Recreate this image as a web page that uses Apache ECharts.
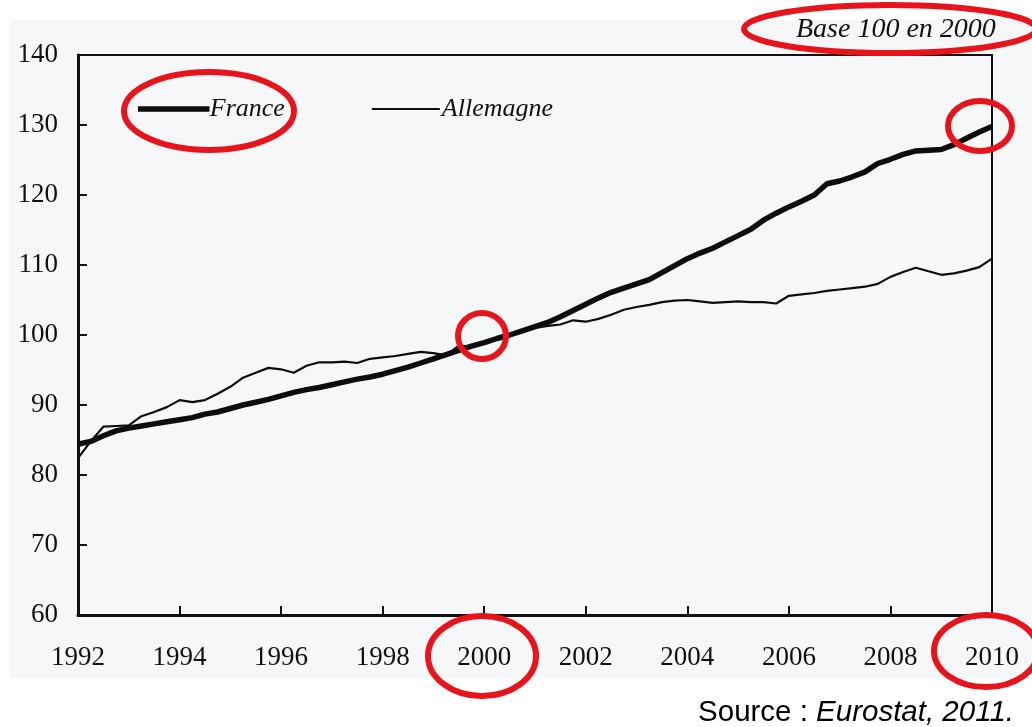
<!DOCTYPE html>
<html>
<head>
<meta charset="utf-8">
<script src="https://cdn.jsdelivr.net/npm/echarts@6/dist/echarts.min.js"></script>
<style>
html,body{margin:0;padding:0;background:#fff;}
#chart{width:1032px;height:727px;}
</style>
</head>
<body>
<div id="chart"></div>
<script>
// Quarterly periods (1992 T1 ... 2010 T1)
const periods = [
  "1992 T1","1992 T2","1992 T3","1992 T4",
  "1993 T1","1993 T2","1993 T3","1993 T4",
  "1994 T1","1994 T2","1994 T3","1994 T4",
  "1995 T1","1995 T2","1995 T3","1995 T4",
  "1996 T1","1996 T2","1996 T3","1996 T4",
  "1997 T1","1997 T2","1997 T3","1997 T4",
  "1998 T1","1998 T2","1998 T3","1998 T4",
  "1999 T1","1999 T2","1999 T3","1999 T4",
  "2000 T1","2000 T2","2000 T3","2000 T4",
  "2001 T1","2001 T2","2001 T3","2001 T4",
  "2002 T1","2002 T2","2002 T3","2002 T4",
  "2003 T1","2003 T2","2003 T3","2003 T4",
  "2004 T1","2004 T2","2004 T3","2004 T4",
  "2005 T1","2005 T2","2005 T3","2005 T4",
  "2006 T1","2006 T2","2006 T3","2006 T4",
  "2007 T1","2007 T2","2007 T3","2007 T4",
  "2008 T1","2008 T2","2008 T3","2008 T4",
  "2009 T1","2009 T2","2009 T3","2009 T4",
  "2010 T1"
];

const france = [
  84.4, 84.8, 85.6, 86.3,
  86.7, 87.0, 87.3, 87.6,
  87.9, 88.2, 88.7, 89.0,
  89.5, 90.0, 90.4, 90.8,
  91.3, 91.8, 92.2, 92.5,
  92.9, 93.3, 93.7, 94.0,
  94.4, 94.9, 95.4, 96.0,
  96.6, 97.2, 97.8, 98.4,
  98.9, 99.5, 100.0, 100.6,
  101.2, 101.8, 102.6, 103.5,
  104.4, 105.3, 106.1, 106.7,
  107.3, 107.9, 108.9, 109.9,
  110.9, 111.7, 112.4, 113.3,
  114.2, 115.1, 116.4, 117.4,
  118.3, 119.1, 120.0, 121.6,
  122.0, 122.6, 123.3, 124.5,
  125.1, 125.8, 126.3, 126.4,
  126.5, 127.2, 128.1, 129.0,
  129.8
];

const allemagne = [
  82.4, 84.8, 86.9, 87.0,
  87.1, 88.4, 89.0, 89.7,
  90.7, 90.4, 90.7, 91.6,
  92.6, 93.9, 94.6, 95.3,
  95.1, 94.6, 95.6, 96.1,
  96.1, 96.2, 96.0, 96.6,
  96.8, 97.0, 97.3, 97.6,
  97.4, 97.1, 98.5, 98.3,
  99.0, 99.6, 100.1, 100.6,
  101.0, 101.3, 101.5, 102.1,
  101.9, 102.3, 102.9, 103.6,
  104.0, 104.3, 104.7, 104.9,
  105.0, 104.8, 104.6, 104.7,
  104.8, 104.7, 104.7, 104.5,
  105.6, 105.8, 106.0, 106.3,
  106.5, 106.7, 106.9, 107.3,
  108.3, 109.0, 109.6, 109.1,
  108.6, 108.8, 109.2, 109.7,
  110.9
];

const seriesNames = ["France", "Allemagne"];
const baseNote = "Base 100 en 2000";
const sourceNote = ["Source : ", "Eurostat, 2011."];

const serif = "'Liberation Serif', 'DejaVu Serif', serif";
const RED = "#e8141c";
const INK = "#111111";
const LINE = "#0d0d0d";

const chart = echarts.init(document.getElementById('chart'));

const option = {
  backgroundColor: '#ffffff',
  animation: false,
  grid: {
    left: 78, right: 40, top: 55, bottom: 112,
    show: true, borderColor: INK, borderWidth: 2, backgroundColor: 'transparent'
  },
  legend: {
    show: true,
    left: 133, top: 91,
    itemWidth: 68, itemHeight: 2, itemGap: 87,
    textStyle: { fontFamily: serif, fontStyle: 'italic', fontSize: 26, color: INK, padding: [0, 0, 0, -3] },
    data: [
      { name: seriesNames[0], icon: 'rect',
        itemStyle: { color: LINE, borderColor: LINE, borderWidth: 3.5 } },
      { name: seriesNames[1], icon: 'rect',
        itemStyle: { color: LINE, borderColor: LINE, borderWidth: 0 } }
    ]
  },
  xAxis: {
    type: 'category',
    data: periods,
    boundaryGap: false,
    axisLine: { lineStyle: { color: INK, width: 3 } },
    axisTick: { inside: true, length: 9, interval: 7, lineStyle: { color: INK, width: 2 } },
    axisLabel: {
      interval: 7, margin: 29,
      fontFamily: serif, fontSize: 27, color: INK,
      formatter: v => v.slice(0, 4)
    },
    splitLine: { show: false }
  },
  yAxis: {
    type: 'value',
    min: 60, max: 140, interval: 10,
    axisLine: { show: true, lineStyle: { color: INK, width: 3 } },
    axisTick: { show: true, inside: true, length: 9, lineStyle: { color: INK, width: 2 } },
    axisLabel: { margin: 20, fontFamily: serif, fontSize: 27, color: INK },
    splitLine: { show: false }
  },
  series: [
    {
      name: seriesNames[0], type: 'line', data: france,
      symbol: 'none', smooth: false,
      lineStyle: { color: LINE, width: 5.5 },
      itemStyle: { color: LINE },
      z: 3
    },
    {
      name: seriesNames[1], type: 'line', data: allemagne,
      symbol: 'none', smooth: false,
      lineStyle: { color: LINE, width: 2.2 },
      itemStyle: { color: LINE },
      z: 2
    }
  ],
  graphic: [
    { type: 'rect', z: -10, silent: true,
      shape: { x: 10, y: 20, width: 1022, height: 658 },
      style: { fill: '#f5f7f9' } },
    { type: 'text', left: 796, top: 16, z: 10,
      style: { text: baseNote, font: "italic 28px 'Liberation Serif', serif", fill: INK } },
    { type: 'text', right: 18, top: 698, z: 10,
      style: {
        text: '{a|' + sourceNote[0] + '}{b|' + sourceNote[1] + '}',
        rich: {
          a: { fontFamily: "'Liberation Sans', Arial, sans-serif", fontSize: 29.5, color: INK },
          b: { fontFamily: "'Liberation Sans', Arial, sans-serif", fontSize: 29.5, fontStyle: 'italic', color: INK }
        }
      } },
    // red annotation ellipses
    { type: 'ellipse', z: 20, shape: { cx: 209, cy: 111, rx: 85, ry: 39 }, style: { fill: 'none', stroke: RED, lineWidth: 6 } },
    { type: 'ellipse', z: 20, shape: { cx: 890, cy: 29, rx: 146, ry: 24 }, style: { fill: 'none', stroke: RED, lineWidth: 6 } },
    { type: 'ellipse', z: 20, shape: { cx: 482, cy: 336, rx: 24, ry: 23 }, style: { fill: 'none', stroke: RED, lineWidth: 6 } },
    { type: 'ellipse', z: 20, shape: { cx: 980, cy: 126, rx: 32, ry: 25 }, style: { fill: 'none', stroke: RED, lineWidth: 6 } },
    { type: 'ellipse', z: 20, shape: { cx: 482, cy: 656, rx: 54, ry: 40 }, style: { fill: 'none', stroke: RED, lineWidth: 6 } },
    { type: 'ellipse', z: 20, shape: { cx: 986, cy: 651, rx: 52, ry: 36 }, style: { fill: 'none', stroke: RED, lineWidth: 6 } }
  ]
};

chart.setOption(option);
</script>
</body>
</html>
